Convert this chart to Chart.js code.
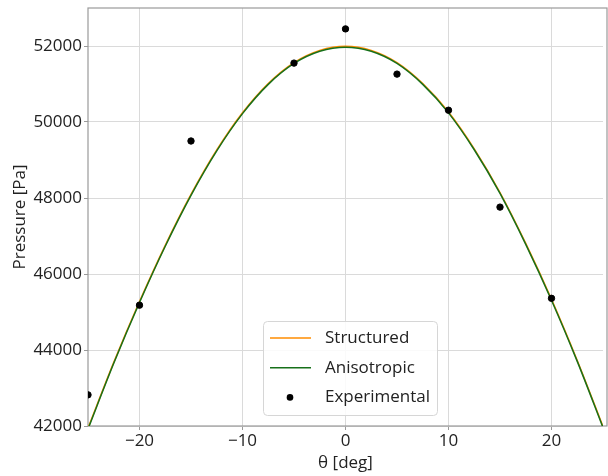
<!DOCTYPE html>
<html>
<head>
<meta charset="utf-8">
<script src="https://cdn.jsdelivr.net/npm/chart.js@4.4.1/dist/chart.umd.min.js"></script>
<style>
  html, body { margin: 0; padding: 0; background: #fff; }
  #wrap { width: 608px; height: 476px; position: relative; }
</style>
</head>
<body>
<div id="wrap"><canvas id="chart"></canvas></div>
<script>
// theta values (deg) where the model curves were read
const curveTheta = [-25, -22.5, -20, -17.5, -15, -12.5, -10, -7.5, -5, -2.5, 0, 2.5, 5, 7.5, 10, 12.5, 15, 17.5, 20, 22.5, 25];
const structured = [41945, 43675, 45275, 46755, 48095, 49265, 50245, 51015, 51565, 51885, 51995, 51885, 51565, 51015, 50265, 49295, 48145, 46805, 45335, 43725, 41985];
const anisotropic = [41920, 43650, 45250, 46730, 48070, 49240, 50220, 50990, 51540, 51860, 51970, 51860, 51540, 50990, 50240, 49270, 48120, 46780, 45310, 43700, 41960];

// experimental measurements
const expTheta = [-25, -20, -15, -5, 0, 5, 10, 15, 20];
const expPressure = [42820, 45180, 49500, 51550, 52450, 51260, 50310, 47760, 45360];

const xTicks = [-20, -10, 0, 10, 20];
const yTicks = [42000, 44000, 46000, 48000, 50000, 52000];

const FONT = "'Open Sans', 'DejaVu Sans', sans-serif";
const minus = v => String(v).replace('-', '\u2212');

const toXY = (xs, ys) => xs.map((x, i) => ({ x, y: ys[i] }));

// frame around plot area (matplotlib-like spines, right one falls off the canvas)
const framePlugin = {
    id: 'frame',
    beforeDatasetsDraw(chart) {
        const { ctx, chartArea: a } = chart;
        ctx.save();
        ctx.strokeStyle = '#9a9a9a';
        ctx.lineWidth = 1.2;
        ctx.strokeRect(a.left, a.top, a.right - a.left + 4, a.bottom - a.top);
        ctx.restore();
    }
};

// legend box drawn inside the plot, lower centre
const legendPlugin = {
    id: 'boxLegend',
    afterDraw(chart) {
        const { ctx } = chart;
        const x = 263, y = 321, w = 174, h = 94, r = 4;
        ctx.save();
        ctx.fillStyle = 'rgba(255,255,255,0.85)';
        ctx.strokeStyle = '#d6d6d6';
        ctx.lineWidth = 1;
        ctx.beginPath();
        ctx.roundRect(x + 0.5, y + 0.5, w, h, r);
        ctx.fill();
        ctx.stroke();
        ctx.font = `17px ${FONT}`;
        ctx.textBaseline = 'middle';
        chart.data.datasets.forEach((ds, i) => {
            const cy = y + 17 + i * 29.7;
            if (ds.showLine === false) {
                ctx.beginPath();
                ctx.arc(x + 27, cy, 3.3, 0, Math.PI * 2);
                ctx.fillStyle = ds.backgroundColor;
                ctx.fill();
            } else {
                ctx.beginPath();
                ctx.moveTo(x + 7, cy);
                ctx.lineTo(x + 48, cy);
                ctx.strokeStyle = ds.borderColor;
                ctx.lineWidth = 1.5;
                ctx.stroke();
            }
            ctx.fillStyle = '#222';
            ctx.fillText(ds.label, x + 62, cy);
        });
        ctx.restore();
    }
};

new Chart(document.getElementById('chart'), {
    type: 'scatter',
    data: {
        datasets: [
            {
                label: 'Structured',
                data: toXY(curveTheta, structured),
                showLine: true,
                borderColor: '#ff8c00',
                borderWidth: 1.5,
                pointRadius: 0,
                cubicInterpolationMode: 'monotone',
                order: 3
            },
            {
                label: 'Anisotropic',
                data: toXY(curveTheta, anisotropic),
                showLine: true,
                borderColor: '#17701a',
                borderWidth: 1.5,
                pointRadius: 0,
                cubicInterpolationMode: 'monotone',
                order: 2
            },
            {
                label: 'Experimental',
                data: toXY(expTheta, expPressure),
                showLine: false,
                backgroundColor: '#000',
                borderColor: '#000',
                pointRadius: 3.2,
                order: 1
            }
        ]
    },
    options: {
        responsive: true,
        maintainAspectRatio: false,
        animation: false,
        layout: { padding: { top: 8, right: 0, left: 0, bottom: 0 } },
        plugins: { legend: { display: false }, tooltip: { enabled: false } },
        scales: {
            x: {
                type: 'linear',
                min: -25,
                max: 25,
                afterBuildTicks: s => { s.ticks = xTicks.map(v => ({ value: v })); },
                afterFit: s => { s.height = 50; s.paddingLeft = 0; s.paddingRight = 0; },
                grid: { color: '#dadada', tickLength: 4, tickColor: '#9a9a9a' },
                border: { display: false },
                ticks: { color: '#222', font: { family: FONT, size: 17 }, padding: 1, maxRotation: 0, callback: v => minus(v) },
                title: { display: true, text: '\u03b8 [deg]', color: '#222', font: { family: FONT, size: 17 }, padding: { top: 0, bottom: 3 } }
            },
            y: {
                min: 42000,
                max: 53000,
                afterBuildTicks: s => { s.ticks = yTicks.map(v => ({ value: v })); },
                afterFit: s => { s.width = 88; s.paddingTop = 0; s.paddingBottom = 0; },
                grid: { color: '#dadada', tickLength: 4, tickColor: '#9a9a9a' },
                border: { display: false },
                ticks: { color: '#222', font: { family: FONT, size: 17 }, padding: 2, callback: v => String(v) },
                title: { display: true, text: 'Pressure [Pa]', color: '#222', font: { family: FONT, size: 17 }, padding: { top: 10, bottom: 0 } }
            }
        }
    },
    plugins: [framePlugin, legendPlugin]
});
</script>
</body>
</html>
